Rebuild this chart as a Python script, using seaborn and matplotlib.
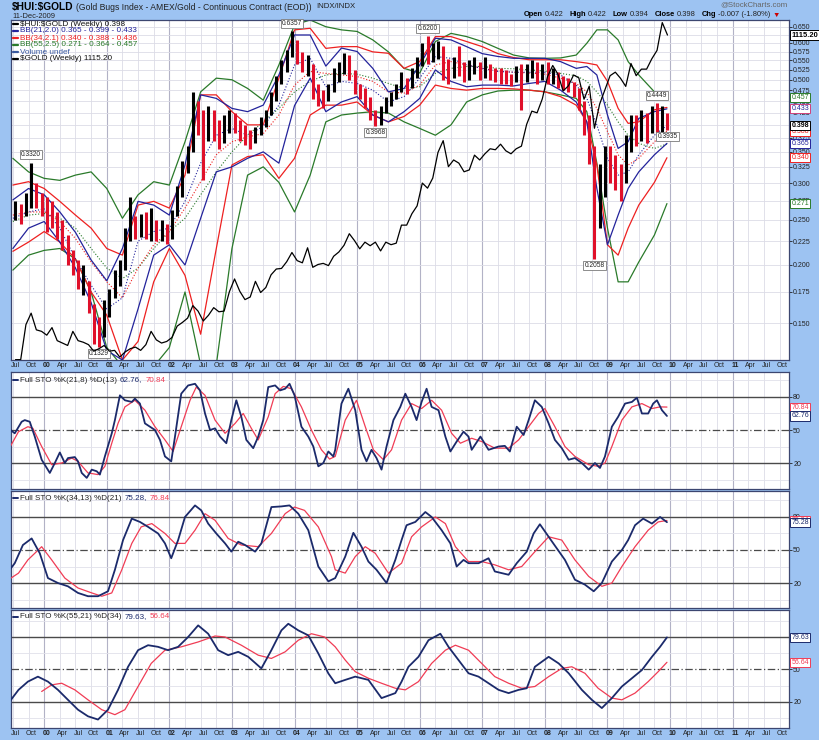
import numpy as np
import pandas as pd
import matplotlib
matplotlib.use("Agg")
import matplotlib.pyplot as plt
import matplotlib.transforms as mtrans
from matplotlib.lines import Line2D
from matplotlib.ticker import FixedLocator, NullLocator
import seaborn as sns

sns.set_theme(style="white")
plt.rcParams["font.family"] = ["Liberation Sans", "DejaVu Sans"]
plt.rcParams["axes.unicode_minus"] = False

# ---------------- data ----------------
months = pd.period_range("1999-07", "2009-12", freq="M")

hui_close = [
    0.262, 0.255, 0.270, 0.290, 0.275, 0.270,
    0.262, 0.255, 0.240, 0.225, 0.215, 0.200, 0.185, 0.185, 0.165, 0.145, 0.140, 0.160,
    0.170, 0.185, 0.195, 0.220, 0.250, 0.240, 0.245, 0.235, 0.245, 0.235, 0.238, 0.232,
    0.255, 0.280, 0.320, 0.350, 0.430, 0.410, 0.360, 0.420, 0.400, 0.370, 0.395, 0.410,
    0.400, 0.385, 0.375, 0.370, 0.385, 0.400, 0.420, 0.455, 0.490, 0.520, 0.560, 0.610,
    0.560, 0.540, 0.545, 0.470, 0.460, 0.450, 0.470, 0.510, 0.525, 0.550, 0.525, 0.480,
    0.470, 0.450, 0.425, 0.410, 0.425, 0.440, 0.455, 0.475, 0.500, 0.480, 0.510, 0.540,
    0.580, 0.560, 0.575, 0.585, 0.540, 0.520, 0.540, 0.535, 0.510, 0.525, 0.540, 0.520,
    0.525, 0.515, 0.510, 0.505, 0.500, 0.495, 0.515, 0.495, 0.520, 0.530, 0.510, 0.525,
    0.505, 0.510, 0.495, 0.490, 0.480, 0.475, 0.450, 0.400, 0.370, 0.240, 0.290, 0.330,
    0.320, 0.310, 0.300, 0.350, 0.390, 0.380, 0.400, 0.390, 0.420, 0.410, 0.420, 0.398]
hui_high = [
    0.275, 0.270, 0.285, 0.332, 0.300, 0.285,
    0.280, 0.275, 0.260, 0.250, 0.232, 0.215, 0.205, 0.200, 0.185, 0.165, 0.155, 0.168,
    0.178, 0.195, 0.205, 0.240, 0.280, 0.255, 0.258, 0.260, 0.265, 0.250, 0.250, 0.245,
    0.262, 0.295, 0.335, 0.360, 0.470, 0.450, 0.430, 0.440, 0.430, 0.410, 0.420, 0.430,
    0.425, 0.410, 0.400, 0.390, 0.395, 0.415, 0.430, 0.470, 0.510, 0.550, 0.580, 0.636,
    0.610, 0.575, 0.565, 0.540, 0.490, 0.475, 0.490, 0.530, 0.545, 0.570, 0.565, 0.525,
    0.490, 0.480, 0.460, 0.430, 0.440, 0.460, 0.470, 0.490, 0.520, 0.505, 0.530, 0.560,
    0.600, 0.620, 0.600, 0.605, 0.590, 0.555, 0.560, 0.590, 0.545, 0.550, 0.560, 0.545,
    0.560, 0.540, 0.530, 0.530, 0.525, 0.515, 0.535, 0.540, 0.540, 0.550, 0.545, 0.540,
    0.545, 0.530, 0.520, 0.510, 0.505, 0.495, 0.480, 0.450, 0.420, 0.360, 0.330, 0.360,
    0.360, 0.345, 0.330, 0.380, 0.420, 0.420, 0.430, 0.425, 0.440, 0.445, 0.440, 0.425]
hui_low = [
    0.250, 0.245, 0.255, 0.265, 0.265, 0.255,
    0.235, 0.240, 0.228, 0.215, 0.200, 0.190, 0.178, 0.172, 0.158, 0.135, 0.133, 0.140,
    0.155, 0.170, 0.180, 0.195, 0.225, 0.228, 0.230, 0.228, 0.225, 0.225, 0.225, 0.222,
    0.228, 0.255, 0.280, 0.315, 0.350, 0.380, 0.305, 0.370, 0.370, 0.355, 0.365, 0.385,
    0.385, 0.370, 0.362, 0.355, 0.365, 0.380, 0.395, 0.420, 0.450, 0.490, 0.520, 0.560,
    0.540, 0.520, 0.510, 0.455, 0.440, 0.435, 0.450, 0.470, 0.495, 0.515, 0.500, 0.465,
    0.455, 0.435, 0.410, 0.397, 0.400, 0.425, 0.440, 0.455, 0.470, 0.465, 0.480, 0.505,
    0.535, 0.540, 0.545, 0.555, 0.500, 0.490, 0.505, 0.510, 0.495, 0.500, 0.515, 0.500,
    0.505, 0.500, 0.495, 0.490, 0.490, 0.485, 0.495, 0.430, 0.495, 0.505, 0.490, 0.500,
    0.490, 0.490, 0.480, 0.475, 0.470, 0.460, 0.430, 0.380, 0.330, 0.206, 0.240, 0.280,
    0.300, 0.290, 0.275, 0.300, 0.350, 0.360, 0.370, 0.365, 0.385, 0.385, 0.385, 0.390]
gold_close = [
    255, 255, 299, 315, 292, 290,
    285, 295, 278, 275, 272, 290, 278, 276, 273, 265, 268, 272,
    265, 266, 258, 264, 268, 270, 266, 273, 290, 279, 275, 277,
    282, 297, 302, 308, 326, 318, 304, 312, 323, 317, 318, 347,
    368, 348, 335, 339, 364, 346, 354, 375, 385, 386, 398, 415,
    400, 396, 424, 388, 393, 395, 391, 408, 416, 429, 452, 438,
    422, 435, 428, 435, 418, 435, 430, 433, 470, 470, 495, 513,
    569, 556, 582, 654, 690, 613, 632, 623, 599, 604, 646, 632,
    650, 665, 662, 679, 659, 650, 665, 673, 743, 789, 783, 834,
    923, 971, 933, 865, 885, 930, 918, 833, 884, 730, 815, 869,
    927, 942, 916, 883, 980, 927, 955, 955, 1001, 1040, 1180, 1115.2]

band_t = [1999.5, 1999.75, 2000.0, 2000.25, 2000.5, 2000.75, 2001.0, 2001.25, 2001.5,
          2001.75, 2002.0, 2002.25, 2002.5, 2002.75, 2003.0, 2003.25, 2003.5, 2003.75,
          2004.0, 2004.25, 2004.5, 2004.75, 2005.0, 2005.25, 2005.5, 2005.75, 2006.0,
          2006.25, 2006.5, 2006.75, 2007.0, 2007.25, 2007.5, 2007.75, 2008.0, 2008.25,
          2008.5, 2008.67, 2008.83, 2009.0, 2009.17, 2009.33, 2009.5, 2009.75, 2009.95]
bb21_up = [.276, .292, .283, .260, .235, .205, .185, .217, .274, .269, .256, .328, .464, .456,
           .434, .427, .441, .512, .624, .624, .535, .585, .575, .529, .471, .479, .538, .614,
           .609, .589, .569, .561, .556, .556, .556, .547, .529, .534, .512, .420, .356, .368,
           .413, .427, .433]
bb21_mid = [.252, .260, .264, .240, .206, .181, .161, .170, .225, .236, .240, .274, .331, .380,
            .393, .380, .397, .441, .538, .556, .483, .496, .491, .475, .448, .460, .504, .561,
            .556, .538, .529, .521, .519, .519, .519, .512, .487, .456, .400, .339, .312, .317,
            .345, .380, .399]
bb21_lo = [.217, .240, .248, .224, .197, .166, .131, .125, .161, .210, .221, .200, .252, .317,
           .325, .339, .350, .331, .440, .504, .427, .448, .460, .420, .406, .427, .456, .525,
           .496, .483, .487, .487, .485, .491, .496, .475, .448, .406, .292, .221, .256, .292,
           .317, .345, .365]
bb34_up = [.297, .302, .292, .274, .256, .240, .217, .210, .269, .274, .265, .312, .464, .464,
           .427, .400, .400, .504, .640, .645, .584, .589, .589, .574, .570, .529, .547, .619,
           .619, .604, .589, .569, .558, .552, .552, .552, .547, .543, .538, .496, .434, .403,
           .406, .431, .436]
bb34_mid = [.256, .260, .260, .248, .228, .203, .184, .170, .197, .221, .236, .265, .302, .345,
            .368, .377, .383, .420, .487, .521, .516, .512, .508, .496, .471, .468, .487, .538,
            .547, .538, .529, .522, .519, .517, .514, .504, .491, .471, .434, .387, .345, .328,
            .339, .368, .388]
bb34_lo = [.214, .224, .236, .224, .206, .175, .156, .125, .137, .184, .217, .190, .142, .217,
           .328, .342, .345, .307, .339, .420, .441, .441, .448, .420, .406, .417, .441, .487,
           .479, .475, .479, .479, .478, .475, .471, .460, .441, .406, .328, .221, .210, .240,
           .269, .301, .340]
bb55_up = [.339, .317, .307, .304, .312, .317, .292, .252, .283, .302, .297, .368, .471, .504,
           .500, .479, .452, .538, .656, .672, .650, .640, .635, .609, .574, .529, .517, .604,
           .629, .619, .604, .584, .565, .557, .556, .557, .565, .599, .640, .640, .609, .547,
           .512, .471, .457]
bb55_mid = [.248, .256, .258, .252, .240, .217, .197, .187, .197, .217, .236, .252, .283, .317,
            .350, .380, .406, .434, .471, .496, .512, .516, .514, .504, .491, .479, .483, .516,
            .529, .534, .534, .529, .528, .525, .522, .516, .510, .496, .471, .441, .406, .380,
            .365, .356, .364]
bb55_lo = [.195, .210, .215, .217, .206, .175, .133, .121, .113, .121, .133, .175, .122, .122,
           .217, .312, .325, .301, .260, .312, .406, .420, .424, .427, .424, .406, .393, .380,
           .400, .448, .464, .473, .475, .475, .471, .464, .456, .427, .331, .240, .184, .184,
           .203, .232, .271]

sto1_k_t = [1999.43, 1999.53, 1999.64, 1999.69, 1999.77, 1999.85, 1999.96, 2000.09, 2000.17,
            2000.25, 2000.33, 2000.38, 2000.49, 2000.54, 2000.60, 2000.68, 2000.76, 2000.84,
            2000.89, 2000.97, 2001.08, 2001.13, 2001.21, 2001.29, 2001.40, 2001.45, 2001.53,
            2001.61, 2001.69, 2001.77, 2001.85, 2001.93, 2002.03, 2002.09, 2002.19, 2002.30,
            2002.41, 2002.49, 2002.57, 2002.65, 2002.73, 2002.81, 2002.91, 2002.99, 2003.07,
            2003.15, 2003.23, 2003.34, 2003.42, 2003.50, 2003.58, 2003.69, 2003.77, 2003.85,
            2003.92, 2004.00, 2004.11, 2004.22, 2004.30, 2004.38, 2004.46, 2004.54, 2004.62,
            2004.65, 2004.75, 2004.86, 2004.97, 2005.07, 2005.15, 2005.23, 2005.31, 2005.39,
            2005.47, 2005.58, 2005.69, 2005.77, 2005.87, 2005.95, 2006.03, 2006.11, 2006.19,
            2006.30, 2006.41, 2006.49, 2006.59, 2006.70, 2006.78, 2006.83, 2006.97, 2007.10,
            2007.26, 2007.36, 2007.44, 2007.55, 2007.66, 2007.74, 2007.84, 2007.95, 2008.06,
            2008.16, 2008.27, 2008.38, 2008.48, 2008.59, 2008.70, 2008.80, 2008.88, 2008.96,
            2009.07, 2009.17, 2009.28, 2009.39, 2009.47, 2009.55, 2009.65, 2009.73, 2009.79,
            2009.87, 2009.95]
sto1_k = [51.5, 47, 57.5, 59, 57.5, 44, 23, 11, 20, 29.6, 20, 24.5, 25.4, 21.5, 11, 6.5, 14,
          12.5, 9.5, 26, 47, 59, 81.5, 77, 75.5, 78.5, 74, 56, 53, 50, 41, 26, 21.5, 44, 83,
          90.5, 92, 86, 65, 50, 51.5, 44, 38, 59, 77, 62, 41, 33.5, 44, 59, 89, 90.5, 86, 87.5,
          92, 81.5, 53, 44, 35, 17, 20, 30.5, 26,
          32, 74, 87.5, 68, 32, 21.5, 32, 24.5, 14, 35, 59, 71, 83, 71, 59, 75.5, 87.5, 71, 68,
          44, 30.5, 39.5, 48.5, 44, 32, 44, 32, 35, 35.6, 30.5, 53, 45.5, 59, 77, 71, 56, 41,
          33.5, 23, 24.5, 20, 14, 20, 15.5, 26, 53, 62, 74, 75.5, 79.4, 65, 65, 74, 77, 68,
          62.76]
sto1_d_t = [1999.43, 1999.59, 1999.74, 1999.82, 1999.96, 2000.12, 2000.28, 2000.44, 2000.54,
            2000.70, 2000.86, 2000.97, 2001.08, 2001.18, 2001.29, 2001.45, 2001.61, 2001.77,
            2001.93, 2002.06, 2002.19, 2002.33, 2002.43, 2002.57, 2002.73, 2002.89, 2003.05,
            2003.18, 2003.31, 2003.42, 2003.58, 2003.69, 2003.82, 2003.95, 2004.11, 2004.27,
            2004.43, 2004.56, 2004.65, 2004.81, 2004.99, 2005.13, 2005.26, 2005.42, 2005.55,
            2005.71, 2005.87, 2006.03, 2006.19, 2006.35, 2006.51, 2006.65, 2006.83, 2006.99,
            2007.20, 2007.42, 2007.58, 2007.74, 2007.90, 2008.00, 2008.16, 2008.32, 2008.48,
            2008.70, 2008.85, 2008.96, 2009.07, 2009.23, 2009.39, 2009.55, 2009.71, 2009.84,
            2009.95]
sto1_d = [32, 48.5, 53, 51.5, 35, 18.5, 20, 24.5, 21.5, 11, 9.5, 17, 38, 56, 71, 77, 68, 53,
          41, 30.5, 53, 77, 89, 81.5, 59, 47, 56, 65, 51.5, 41, 62, 83, 89.6, 87.5, 71, 50, 32,
          23.6, 26, 59, 77, 53, 32, 23, 32, 59, 74, 69.5, 77, 68, 47, 38, 42.5, 39.5, 33.5,
          33.5, 41, 53, 65, 69.5, 53, 35, 26, 18.5, 17, 20, 35, 59, 71, 74, 69.5, 71, 70.84]

sto2_k_t = [1999.43, 1999.53, 1999.66, 1999.80, 1999.93, 2000.06, 2000.22, 2000.38, 2000.54,
            2000.70, 2000.86, 2001.02, 2001.13, 2001.26, 2001.40, 2001.53, 2001.66, 2001.82,
            2001.93, 2002.03, 2002.14, 2002.25, 2002.41, 2002.51, 2002.62, 2002.75, 2002.89,
            2002.99, 2003.10, 2003.21, 2003.37, 2003.47, 2003.63, 2003.79, 2003.92, 2004.06,
            2004.22, 2004.38, 2004.54, 2004.65, 2004.81, 2004.94, 2005.07, 2005.18, 2005.31,
            2005.47, 2005.61, 2005.71, 2005.79, 2005.93, 2006.09, 2006.19, 2006.35, 2006.49,
            2006.59, 2006.70, 2006.78, 2006.94, 2007.10, 2007.20, 2007.42, 2007.55, 2007.71,
            2007.82, 2007.92, 2008.06, 2008.19, 2008.32, 2008.48, 2008.64, 2008.78, 2008.91,
            2009.07, 2009.23, 2009.33, 2009.44, 2009.57, 2009.71, 2009.84, 2009.95]
sto2_k = [30.5, 38, 54.5, 60.5, 47, 24.5, 20, 17, 11, 8, 8, 12.5, 32, 59, 78.5, 75.5, 71, 65,
          56, 42.5, 59, 80, 90.5, 86, 74, 65, 56, 48.5, 57.5, 54.5, 48.5, 56, 89, 89.6, 90.5,
          83, 68, 35, 21.5, 24.5, 44, 65.6, 53, 39.5, 32, 20, 41, 59, 72.5, 75.5, 84.5, 80, 68,
          56, 35, 41, 38, 38, 42.5, 30.5, 27.5, 38, 48.5, 65, 73.4, 62, 51.5, 41, 23, 18.5,
          12.5, 20, 39.5, 50, 59, 72.5, 78.5, 74, 80, 75.28]
sto2_d_t = [1999.43, 1999.59, 1999.74, 1999.96, 2000.12, 2000.33, 2000.54, 2000.76, 2000.92,
            2001.08, 2001.24, 2001.40, 2001.55, 2001.72, 2001.93, 2002.09, 2002.25, 2002.41,
            2002.57, 2002.73, 2002.94, 2003.15, 2003.42, 2003.63, 2003.85, 2004.00, 2004.16,
            2004.38, 2004.59, 2004.65, 2004.81, 2004.97, 2005.13, 2005.29, 2005.50, 2005.71,
            2005.87, 2006.03, 2006.25, 2006.41, 2006.57, 2006.78, 2006.99, 2007.20, 2007.42,
            2007.63, 2007.84, 2008.06, 2008.27, 2008.48, 2008.70, 2008.91, 2009.07, 2009.23,
            2009.44, 2009.65, 2009.81, 2009.95]
sto2_d = [23, 29, 41, 53, 41, 24.5, 15.5, 11, 8, 11, 32, 56, 71, 74, 65, 56, 56, 68, 83, 77,
          60.5, 54.5, 53, 65, 83, 89, 86, 71, 44, 32, 29, 44, 53, 47, 29, 38, 62, 71, 80, 74,
          53, 39.5, 39.5, 36.5, 32, 35, 48.5, 62, 59, 41, 26, 17, 20, 35, 53, 68, 75.5, 76.84]

sto3_k_t = [1999.43, 1999.59, 1999.74, 1999.90, 2000.06, 2000.22, 2000.38, 2000.54, 2000.70,
            2000.86, 2001.02, 2001.18, 2001.34, 2001.50, 2001.66, 2001.82, 2001.98, 2002.14,
            2002.30, 2002.46, 2002.62, 2002.78, 2002.94, 2003.10, 2003.26, 2003.47, 2003.63,
            2003.79, 2003.90, 2004.06, 2004.22, 2004.38, 2004.54, 2004.65, 2004.81, 2004.97,
            2005.18, 2005.39, 2005.61, 2005.71, 2005.82, 2005.98, 2006.14, 2006.33, 2006.46,
            2006.62, 2006.78, 2006.94, 2007.10, 2007.26, 2007.42, 2007.58, 2007.71, 2007.84,
            2008.06, 2008.22, 2008.38, 2008.59, 2008.75, 2008.91, 2009.07, 2009.23, 2009.39,
            2009.55, 2009.71, 2009.84, 2009.95]
sto3_k = [19, 31.2, 38.8, 43.4, 38.8, 31.2, 22, 12.9, 6.8, 3.8, 12.9, 31.2, 52.5, 67.8, 72.4,
          70.9, 67.8, 70.9, 80, 90.7, 83, 67.8, 63.2, 66.3, 61.7, 51, 67.8, 86.1, 92.2, 86.1,
          81.5, 64.8, 46.4, 37.3, 40.4, 43.4, 40.4, 23.6, 28.2, 38.8, 52.5, 61.7, 77, 83, 70.9,
          58.7, 46.5, 43.4, 37.3, 31.2, 28.2, 31.2, 32.7, 52.5, 61.7, 55.6, 46.5, 31.2, 22,
          14.4, 23.6, 34.3, 41.9, 49.5, 61.7, 70.9, 79.63]
sto3_d_t = [1999.96, 2000.12, 2000.28, 2000.49, 2000.70, 2000.92, 2001.13, 2001.29, 2001.50,
            2001.71, 2001.93, 2002.19, 2002.46, 2002.73, 2002.89, 2003.15, 2003.42, 2003.63,
            2003.85, 2004.06, 2004.27, 2004.48, 2004.65, 2004.81, 2004.97, 2005.18, 2005.39,
            2005.61, 2005.77, 2005.98, 2006.19, 2006.41, 2006.57, 2006.78, 2006.99, 2007.20,
            2007.42, 2007.63, 2007.84, 2008.06, 2008.27, 2008.43, 2008.64, 2008.85, 2009.07,
            2009.23, 2009.44, 2009.65, 2009.81, 2009.95]
sto3_d = [29.7, 35.8, 37.3, 31.2, 22, 12.9, 8.3, 12.9, 34.3, 55.6, 67.8, 70.9, 75.4, 80.9, 80,
          72.4, 63.2, 60.2, 66.3, 77, 83, 80, 70.9, 58.7, 48, 41.9, 37.3, 32.7, 31.2, 38.8,
          55.6, 67.8, 72.4, 67.8, 55.6, 43.4, 37.3, 32.7, 34.3, 43.4, 51, 52.5, 46.5, 32.7,
          23.6, 22, 28.2, 38.8, 48, 56.64]

# ---------------- styling ----------------
W, H = 820, 740
BG = "#9dc3f2"
BLUE, RED, GREEN = "#23239b", "#ee2020", "#2a7a2a"
PRICE_RED = "#e0102a"
STO_K, STO_D = "#1b2a6b", "#f03c55"
XMIN, XMAX = 1999.47, 2011.9
quarters = np.arange(1999.5, 2011.76, 0.25)

fig = plt.figure(figsize=(W / 100, H / 100), dpi=100, facecolor=BG)
renderer = fig.canvas.get_renderer()


def fx(px):
    return px / W


def fy(py):
    return 1 - py / H


def axes_px(left, top, right, bottom):
    return fig.add_axes([fx(left), fy(bottom), (right - left) / W, (bottom - top) / H])


def right_ticks(ax):
    ax.yaxis.tick_right()
    ax.tick_params(axis="y", which="both", left=False, labelleft=False, right=True,
                   labelright=True, length=2, width=0.6, pad=1, labelsize=5,
                   colors="#222222", direction="out")


def base(ax):
    ax.set_facecolor("white")
    for q in quarters:
        yearline = abs(q - round(q)) < 1e-6
        ax.axvline(q, color="#b2b2c6" if yearline else "#dcdce6",
                   lw=0.8 if yearline else 0.6, zorder=0)
    for s in ax.spines.values():
        s.set_color("#3c4670")
        s.set_linewidth(0.9)
    ax.set_xticks([])
    right_ticks(ax)


def date_labels(ax, ypos):
    tr = mtrans.blended_transform_factory(ax.transData, ax.transAxes)
    for q in quarters:
        yr = int(np.floor(q + 1e-9))
        m = int(round((q - yr) * 4))
        if m == 0:
            lab, fw = f"{yr % 100:02d}", "bold"
        else:
            lab, fw = ["", "Apr", "Jul", "Oct"][m], "normal"
        ax.text(q + 0.04, ypos, lab, transform=tr, ha="center", va="center",
                fontsize=5, fontweight=fw, color="#222222", clip_on=False)


def rich(x_px, y_px, parts, fs, align="left"):
    # parts: (text, colour, weight, gap after in px[, font size])
    items, x = [], x_px
    for part in parts:
        s, c, w, gap = part[:4]
        size = part[4] if len(part) > 4 else fs
        t = fig.text(fx(x), fy(y_px), s, color=c, fontweight=w, fontsize=size,
                     va="center", ha="left", parse_math=False)
        x += t.get_window_extent(renderer=renderer).width + gap
        items.append(t)
    if align == "right":
        shift = x_px - (x - parts[-1][3])
        for t in items:
            px0 = t.get_position()[0] * W
            t.set_position((fx(px0 + shift), fy(y_px)))


def tag(ax, y, text, ec, tc, bold=False, fs=5):
    tr = mtrans.blended_transform_factory(ax.transAxes, ax.transData)
    ax.text(1.003, y, text, transform=tr, ha="left", va="center", fontsize=fs, color=tc,
            fontweight="bold" if bold else "normal", clip_on=False, zorder=10,
            bbox=dict(boxstyle="square,pad=0.15", fc="white", ec=ec, lw=0.7))


ax0 = axes_px(11, 20, 789, 360)
ax1 = axes_px(11, 372, 789, 489)
ax2 = axes_px(11, 491, 789, 608)
ax3 = axes_px(11, 610, 789, 728)

# ---------------- main price panel ----------------
base(ax0)
ax0.set_yscale("log")
price = pd.DataFrame({"t": months.year + (months.month - 0.5) / 12,
                      "close": hui_close, "high": hui_high, "low": hui_low,
                      "gold": gold_close})
bands = pd.DataFrame({"t": band_t, "bb21_up": bb21_up, "bb21_mid": bb21_mid, "bb21_lo": bb21_lo,
                      "bb34_up": bb34_up, "bb34_mid": bb34_mid, "bb34_lo": bb34_lo,
                      "bb55_up": bb55_up, "bb55_mid": bb55_mid, "bb55_lo": bb55_lo})

yt = np.round(np.arange(0.150, 0.651, 0.025), 3)
for v in yt:
    ax0.axhline(v, color="#dcdce6", lw=0.6, zorder=0)

band_style = [("bb55_up", GREEN, "-"), ("bb55_mid", GREEN, ":"), ("bb55_lo", GREEN, "-"),
              ("bb34_up", RED, "-"), ("bb34_mid", RED, ":"), ("bb34_lo", RED, "-"),
              ("bb21_up", BLUE, "-"), ("bb21_mid", BLUE, ":"), ("bb21_lo", BLUE, "-")]
for col, c, ls in band_style:
    sns.lineplot(data=bands, x="t", y=col, ax=ax0, color=c, lw=0.9 if ls == "-" else 0.8,
                 linestyle=ls, zorder=2)

up = price["close"].diff().fillna(0).values >= 0
ax0.vlines(price["t"][up], price["low"][up], price["high"][up], color="black", lw=2.2, zorder=3)
ax0.vlines(price["t"][~up], price["low"][~up], price["high"][~up], color=PRICE_RED, lw=2.2,
           zorder=3)

marks = [("0.3320", 1999.6, 2000.0, "hi"), ("0.1329", 2000.6, 2001.0, "lo"),
         ("0.6357", 2003.6, 2004.1, "hi"), ("0.3968", 2005.0, 2005.6, "lo"),
         ("0.6200", 2005.9, 2006.4, "hi"), ("0.2058", 2008.6, 2009.0, "lo"),
         ("0.4449", 2009.6, 2009.9, "hi"), ("0.3935", 2009.9, 2010.0, "lo")]
for text, t0, t1, kind in marks:
    sel = price[(price["t"] >= t0) & (price["t"] <= t1)]
    if kind == "hi":
        i = sel["high"].idxmax()
        xy, off, va = (sel["t"][i], sel["high"][i]), (0, 3), "bottom"
    else:
        i = sel["low"].idxmin()
        xy, off, va = (sel["t"][i], sel["low"][i]), (0, -2), "top"
    ax0.annotate(text, xy, xytext=off, textcoords="offset points", ha="center", va=va,
                 fontsize=4.8, color="#222222", zorder=8,
                 bbox=dict(boxstyle="square,pad=0.15", fc="white", ec="#7a7a7a", lw=0.6))

axg = ax0.twinx()
sns.lineplot(data=price, x="t", y="gold", ax=axg, color="black", lw=0.9)
axg.set_yscale("log")
axg.set_ylim(254.6, 1194)
axg.set_yticks([])
axg.yaxis.set_minor_locator(NullLocator())
axg.set_ylabel("")
axg.set_xlabel("")
for s in axg.spines.values():
    s.set_visible(False)

# twinx moves the host ticks to the left; put them back on the right
ax0.set_ylim(0.125, 0.672)
ax0.yaxis.set_major_locator(FixedLocator(yt))
ax0.yaxis.set_minor_locator(NullLocator())
ax0.set_yticklabels([f"{v:.3f}" for v in yt])
right_ticks(ax0)
ax0.set_xlabel("")
ax0.set_ylabel("")

for y, txt, ec, tc, b in [(0.457, "0.457", GREEN, GREEN, False), (0.433, "0.433", "#d0407a", BLUE, False),
                          (0.388, "0.388", RED, RED, False), (0.398, "0.398", "black", "black", True),
                          (0.365, "0.365", BLUE, BLUE, False), (0.340, "0.340", RED, RED, False),
                          (0.271, "0.271", GREEN, GREEN, False)]:
    tag(ax0, y, txt, ec, tc, bold=b)
tag(axg, 1115.2, "1115.20", "black", "black", bold=True, fs=5.4)

date_labels(ax0, -0.016)

# ---------------- stochastic panels ----------------
sto_panels = [
    (ax1, sto1_k_t, sto1_k, sto1_d_t, sto1_d, (-3.6, 102.7), 380, "Full STO %K(21,8) %D(13)"),
    (ax2, sto2_k_t, sto2_k, sto2_d_t, sto2_d, (-2.7, 103.6), 498, "Full STO %K(34,13) %D(21)"),
    (ax3, sto3_k_t, sto3_k, sto3_d_t, sto3_d, (-4.0, 104.9), 617, "Full STO %K(55,21) %D(34)"),
]
for ax, kt, kv, dt, dv, lim, ly, label in sto_panels:
    base(ax)
    for lv in (5, 35, 65, 95):
        ax.axhline(lv, color="#e1e1ea", lw=0.6, zorder=0)
    ax.axhline(80, color="#4a4a4a", lw=1.0, zorder=1)
    ax.axhline(20, color="#4a4a4a", lw=1.0, zorder=1)
    ax.axhline(50, color="#4a4a4a", lw=0.9, ls=(0, (6, 2, 1, 2)), zorder=1)
    sns.lineplot(x=dt, y=dv, ax=ax, color=STO_D, lw=0.9, zorder=3)
    sns.lineplot(x=kt, y=kv, ax=ax, color=STO_K, lw=1.3, zorder=4)
    ax.set_ylim(*lim)
    ax.set_yticks([20, 50, 80])
    ax.set_yticklabels(["20", "50", "80"])
    right_ticks(ax)
    ax.set_xlabel("")
    ax.set_ylabel("")
    fig.add_artist(Line2D([fx(13), fx(18)], [fy(ly), fy(ly)], color=STO_K, lw=1.4))
    rich(20, ly, [(label, "#222222", "normal", 3), (f"{kv[-1]:.2f},", STO_K, "normal", 3),
                  (f"{dv[-1]:.2f}", STO_D, "normal", 0)], 5.8)
    tag(ax, dv[-1], f"{dv[-1]:.2f}", STO_D, STO_D)
    tag(ax, kv[-1], f"{kv[-1]:.2f}", STO_K, STO_K)

date_labels(ax3, -0.05)

for ax in (ax0, axg, ax1, ax2, ax3):
    ax.set_xlim(XMIN, XMAX)

# ---------------- header and legend texts ----------------
rich(12, 7, [("$HUI:$GOLD", "black", "bold", 3, 7.4),
             ("(Gold Bugs Index - AMEX/Gold - Continuous Contract (EOD))", "#222222", "normal", 4),
             ("INDX/INDX", "#222222", "normal", 0, 5.6)], 6.2)
fig.text(fx(12), fy(16), "11-Dec-2009", fontsize=5.4, color="#222222", va="center")
fig.text(fx(788), fy(5), "@StockCharts.com", fontsize=5.6, color="#666666", va="center",
         ha="right")
rich(780, 15, [("Open", "black", "bold", 2), ("0.422", "#222222", "normal", 6),
               ("High", "black", "bold", 2), ("0.422", "#222222", "normal", 6),
               ("Low", "black", "bold", 2), ("0.394", "#222222", "normal", 6),
               ("Close", "black", "bold", 2), ("0.398", "#222222", "normal", 6),
               ("Chg", "black", "bold", 2), ("-0.007 (-1.80%)", "#222222", "normal", 2),
               ("\u25bc", "#cc0000", "normal", 0)], 5.4, align="right")

legend_rows = [
    (24, "$HUI:$GOLD (Weekly) 0.398", "black"),
    (31, "BB(21,2.0) 0.365 - 0.399 - 0.433", BLUE),
    (38, "BB(34,2.1) 0.340 - 0.388 - 0.436", RED),
    (45, "BB(55,2.5) 0.271 - 0.364 - 0.457", GREEN),
    (52, "Volume undef", "#3a5aa0"),
    (59, "$GOLD (Weekly) 1115.20", "black"),
]
for py, txt, c in legend_rows:
    fig.text(fx(20), fy(py), txt, fontsize=5.9, color=c if c != "black" else "#111111",
             va="center", ha="left", parse_math=False)
    fig.add_artist(Line2D([fx(13), fx(18)], [fy(py), fy(py)], color=c, lw=1.6))

fig.savefig("out.png", dpi=100, facecolor=BG)
